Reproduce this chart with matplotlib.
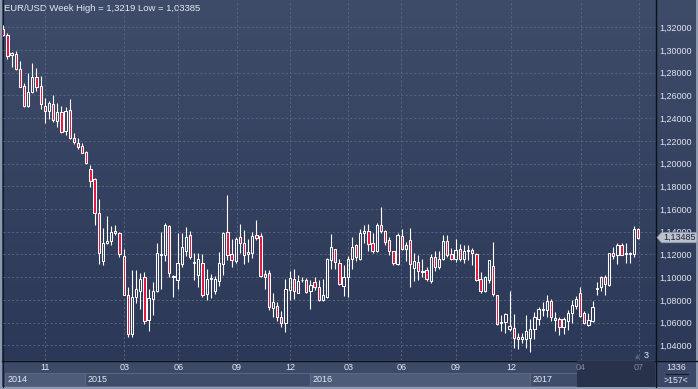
import numpy as np
import matplotlib.pyplot as plt
from matplotlib.colors import LinearSegmentedColormap
from matplotlib.patches import Rectangle, Polygon
from matplotlib.transforms import blended_transform_factory

plt.rcParams['font.family'] = ['Liberation Sans', 'DejaVu Sans']

# EUR/USD weekly candles (oldest first)
opens = [1.3185, 1.3132, 1.2956, 1.2962, 1.2830, 1.2683, 1.2507, 1.2630, 1.2760, 1.2683,
         1.2507, 1.2466, 1.2525, 1.2372, 1.2454, 1.2290, 1.2472, 1.2225, 1.2179, 1.2155,
         1.2102, 1.1950, 1.1867, 1.1568, 1.1145, 1.1303, 1.1316, 1.1404, 1.1391, 1.1186,
         1.0846, 1.0499, 1.0828, 1.0875, 1.1004, 1.0623, 1.0805, 1.0875, 1.1192, 1.1198,
         1.1450, 1.0999, 1.0975, 1.1116, 1.1233, 1.1369, 1.1122, 1.1022, 1.1122, 1.0852,
         1.0981, 1.0881, 1.0969, 1.1116, 1.1398, 1.1204, 1.1145, 1.1351, 1.1298, 1.1204,
         1.1215, 1.1369, 1.1362, 1.1028, 1.1034, 1.0728, 1.0746, 1.0652, 1.0599, 1.0887,
         1.0981, 1.0863, 1.0971, 1.0975, 1.0875, 1.0957, 1.0916, 1.0799, 1.0828, 1.1151,
         1.1245, 1.1122, 1.0922, 1.0999, 1.1163, 1.1280, 1.1163, 1.1391, 1.1409, 1.1298,
         1.1233, 1.1462, 1.1404, 1.1327, 1.1228, 1.1116, 1.1362, 1.1251, 1.1327, 1.1081,
         1.1133, 1.1048, 1.1063, 1.0969, 1.1175, 1.1092, 1.1163, 1.1316, 1.1204, 1.1163,
         1.1245, 1.1163, 1.1229, 1.1239, 1.1204, 1.0981, 1.0881, 1.0975, 1.1098, 1.0846,
         1.0594, 1.0605, 1.0541, 1.0552, 1.0458, 1.0458, 1.0458, 1.0464, 1.0541, 1.0629,
         1.0711, 1.0711, 1.0793, 1.0640, 1.0634, 1.0564, 1.0617, 1.0687, 1.0746, 1.0858,
         1.0682, 1.0581, 1.0617, 1.0894, 1.0911, 1.1004, 1.0928, 1.1215, 1.1198, 1.1286,
         1.1206, 1.1204, 1.1204, 1.1427]
highs = [1.3219, 1.3152, 1.2985, 1.2994, 1.2901, 1.2712, 1.2800, 1.2888, 1.2839, 1.2771,
         1.2575, 1.2554, 1.2601, 1.2531, 1.2507, 1.2501, 1.2566, 1.2272, 1.2225, 1.2184,
         1.2113, 1.1985, 1.1873, 1.1686, 1.1433, 1.1538, 1.1450, 1.1457, 1.1398, 1.1245,
         1.0911, 1.1063, 1.1063, 1.1039, 1.1045, 1.0898, 1.0957, 1.1303, 1.1398, 1.1479,
         1.1457, 1.1016, 1.1386, 1.1386, 1.1439, 1.1409, 1.1210, 1.1210, 1.1204, 1.1074,
         1.1028, 1.1010, 1.1221, 1.1398, 1.1726, 1.1333, 1.1351, 1.1468, 1.1415, 1.1333,
         1.1398, 1.1503, 1.1386, 1.1063, 1.1063, 1.0863, 1.0781, 1.0699, 1.0981, 1.1057,
         1.1069, 1.1016, 1.0999, 1.0993, 1.0975, 1.0999, 1.0975, 1.0981, 1.1169, 1.1380,
         1.1251, 1.1157, 1.1104, 1.1186, 1.1351, 1.1292, 1.1421, 1.1462, 1.1468, 1.1386,
         1.1474, 1.1620, 1.1415, 1.1351, 1.1233, 1.1386, 1.1421, 1.1310, 1.1433, 1.1210,
         1.1192, 1.1163, 1.1087, 1.1204, 1.1233, 1.1233, 1.1374, 1.1374, 1.1257, 1.1333,
         1.1292, 1.1280, 1.1280, 1.1257, 1.1215, 1.1045, 1.1010, 1.1151, 1.1310, 1.0846,
         1.0669, 1.0682, 1.0881, 1.0676, 1.0506, 1.0508, 1.0669, 1.0634, 1.0693, 1.0735,
         1.0781, 1.0846, 1.0810, 1.0693, 1.0647, 1.0647, 1.0711, 1.0799, 1.0834, 1.0911,
         1.0699, 1.0682, 1.0787, 1.0957, 1.1010, 1.1016, 1.1215, 1.1268, 1.1298, 1.1298,
         1.1298, 1.1222, 1.1450, 1.1433]
lows = [1.3123, 1.2918, 1.2853, 1.2824, 1.2672, 1.2501, 1.2501, 1.2624, 1.2642, 1.2478,
        1.2355, 1.2395, 1.2369, 1.2320, 1.2272, 1.2249, 1.2219, 1.2172, 1.2131, 1.2091,
        1.1996, 1.1797, 1.1462, 1.1116, 1.1104, 1.1292, 1.1280, 1.1369, 1.1180, 1.0840,
        1.0470, 1.0476, 1.0775, 1.0717, 1.0588, 1.0523, 1.0664, 1.0869, 1.0898, 1.1140,
        1.1004, 1.0823, 1.0893, 1.1087, 1.1186, 1.1163, 1.0975, 1.0916, 1.0828, 1.0799,
        1.0816, 1.0852, 1.0922, 1.1022, 1.1151, 1.1092, 1.1127, 1.1210, 1.1116, 1.1133,
        1.1169, 1.1327, 1.0999, 1.0898, 1.0711, 1.0647, 1.0617, 1.0564, 1.0517, 1.0799,
        1.0805, 1.0858, 1.0957, 1.0858, 1.0717, 1.0887, 1.0787, 1.0793, 1.0816, 1.1069,
        1.1069, 1.0928, 1.0834, 1.0828, 1.1069, 1.1145, 1.1151, 1.1298, 1.1233, 1.1210,
        1.1222, 1.1386, 1.1286, 1.1192, 1.1110, 1.1104, 1.1239, 1.1140, 1.0916, 1.0969,
        1.0975, 1.0999, 1.0964, 1.0951, 1.1052, 1.1074, 1.1151, 1.1175, 1.1151, 1.1133,
        1.1145, 1.1122, 1.1151, 1.1104, 1.0964, 1.0858, 1.0869, 1.0946, 1.0834, 1.0576,
        1.0523, 1.0511, 1.0529, 1.0376, 1.0365, 1.0420, 1.0376, 1.03385, 1.0458, 1.0576,
        1.0658, 1.0647, 1.0611, 1.0529, 1.0493, 1.0499, 1.0535, 1.0599, 1.0717, 1.0652,
        1.0588, 1.0570, 1.0605, 1.0840, 1.0881, 1.0846, 1.0922, 1.1163, 1.1116, 1.1192,
        1.1127, 1.1122, 1.1175, 1.1339]
closes = [1.3132, 1.2947, 1.2974, 1.2830, 1.2677, 1.2507, 1.2630, 1.2760, 1.2672, 1.2525,
          1.2460, 1.2531, 1.2384, 1.2454, 1.2278, 1.2460, 1.2225, 1.2190, 1.2149, 1.2096,
          1.2003, 1.1844, 1.1568, 1.1210, 1.1303, 1.1321, 1.1398, 1.1386, 1.1204, 1.0846,
          1.0499, 1.0828, 1.0893, 1.0981, 1.0611, 1.0816, 1.0875, 1.1210, 1.1204, 1.1457,
          1.1034, 1.1010, 1.1122, 1.1268, 1.1356, 1.1175, 1.1133, 1.1157, 1.0840, 1.0986,
          1.0993, 1.0986, 1.1127, 1.1391, 1.1192, 1.1151, 1.1339, 1.1303, 1.1198, 1.1222,
          1.1362, 1.1345, 1.1010, 1.1004, 1.0740, 1.0781, 1.0652, 1.0599, 1.0898, 1.0993,
          1.0881, 1.0969, 1.0979, 1.0869, 1.0928, 1.0916, 1.0799, 1.0840, 1.1163, 1.1263,
          1.1133, 1.0940, 1.1004, 1.1157, 1.1268, 1.1180, 1.1391, 1.1404, 1.1292, 1.1228,
          1.1462, 1.1404, 1.1310, 1.1228, 1.1122, 1.1374, 1.1251, 1.1286, 1.1116, 1.1145,
          1.1052, 1.1057, 1.0981, 1.1175, 1.1092, 1.1163, 1.1321, 1.1198, 1.1163, 1.1239,
          1.1157, 1.1228, 1.1237, 1.1210, 1.0975, 1.0881, 1.0999, 1.1151, 1.0852, 1.0588,
          1.0605, 1.0676, 1.0570, 1.0464, 1.0476, 1.0470, 1.0529, 1.0546, 1.0647, 1.0717,
          1.0720, 1.0793, 1.0652, 1.0623, 1.0564, 1.0634, 1.0687, 1.0752, 1.0805, 1.0658,
          1.0594, 1.0623, 1.0735, 1.0903, 1.1004, 1.0940, 1.1215, 1.1186, 1.1286, 1.1198,
          1.1214, 1.1215, 1.1427, 1.13485]

# time axis (positions in candle units, as they sit in the picture)
month_labels = ['11', '03', '06', '09', '12', '03', '06', '09', '12', '04', '07']
month_pos = [10, 29.2, 42.2, 56.2, 69.2, 83.1, 95.9, 109.1, 122.3, 139.2, 153.2]
year_labels = ['2014', '2015', '2016', '2017']
year_edges = [0.4, 19.7, 73.9, 126.9, 138.2]
price_ticks = np.arange(1.04, 1.3201, 0.02)

week_high = 1.3219
week_low = 1.03385
last_price = closes[-1]
bars_info = ['1336', '>157<']

def de(v, nd=None):
    s = f'{v:.{nd}f}' if nd else str(v)
    return s.replace('.', ',')

o = np.array(opens); h = np.array(highs); l = np.array(lows); c = np.array(closes)
x = np.arange(len(o))
up = c >= o
body_lo = np.minimum(o, c)
body_hi = np.maximum(o, c)

W, H = 698, 389
fig = plt.figure(figsize=(W / 100, H / 100), dpi=100)
fig.patch.set_facecolor('#3c4967')

# background layer in pixel space
bg = fig.add_axes([0, 0, 1, 1])
bg.set_zorder(0)
cmap = LinearSegmentedColormap.from_list('panel', ['#3e4b69', '#2c3857'])
bg.imshow(np.linspace(0, 1, 256).reshape(-1, 1), extent=(0, W, 360, 0),
          cmap=cmap, aspect='auto', interpolation='bilinear')
bg.add_patch(Rectangle((0, 360), W, 29, fc='#3c4967', ec='none'))
bg.add_patch(Rectangle((655, 361), 43, 28, fc='#3a4766', ec='none'))
bg.add_patch(Rectangle((0, 0), 2, H, fc='#8d99ae', ec='none'))
bg.add_patch(Rectangle((0, 387), W, 2, fc='#8d99ae', ec='none'))
bg.add_patch(Rectangle((696, 0), 2, H, fc='#8d99ae', ec='none'))
bg.plot([2.5, 2.5], [0, 387], color='#141a26', lw=0.8)
bg.plot([655.5, 655.5], [0, 387], color='#0c1018', lw=1.0)
bg.plot([2, 698], [360.5, 360.5], color='#0c1018', lw=1.0)
bg.set_xlim(0, W)
bg.set_ylim(H, 0)
bg.axis('off')

bg.text(4, 8, f'EUR/USD Week High = {de(week_high)} Low = {de(week_low)}',
        fontsize=6.8, color='#e4eaf3', va='center', ha='left')
bg.text(676, 367, bars_info[0], fontsize=6.3, color='#e4eaf3', ha='center', va='center')
bg.plot([666, 688], [374, 374], color='#141a26', lw=0.8)
bg.text(676, 380.5, bars_info[1], fontsize=6.3, color='#e4eaf3', ha='center', va='center')
bg.text(646.5, 355, '3', fontsize=6.5, color='#e4eaf3', ha='center', va='center')
bg.text(637, 356.5, '\u25b2', fontsize=4.5, color='#5c6782', ha='center', va='center',
        family='DejaVu Sans')

# main price axes
ax = fig.add_axes([3 / W, 1 - 360 / H, 652 / W, 360 / H])
ax.set_zorder(1)
ax.patch.set_alpha(0)
for sp in ax.spines.values():
    sp.set_visible(False)

ax.vlines(x, body_hi, h, color='white', lw=0.8, zorder=3)
ax.vlines(x, l, body_lo, color='white', lw=0.8, zorder=3)
faces = ['none' if u else '#e3163f' for u in up]
ax.bar(x, body_hi - body_lo, bottom=body_lo, width=0.55, color=faces,
       edgecolor='white', linewidth=0.75, zorder=4)

ax.set_xlim(-0.072, 157.04)
ax.set_ylim(1.02705, 1.34404)
ax.yaxis.tick_right()
ax.set_yticks(price_ticks)
ax.set_yticklabels([de(v, 5) for v in price_ticks])
ax.tick_params(axis='y', length=0, pad=3.2, labelsize=6.5, labelcolor='#dfe6f0')
ax.set_xticks(month_pos)
ax.tick_params(axis='x', length=0, labelbottom=False)
ax.grid(True, color='#56647f', lw=0.7, ls=(0, (2.2, 2.2)))
ax.set_axisbelow(True)

# last price tag on the scale
tr = blended_transform_factory(bg.transData, ax.transData)
dp = 0.0046
tag = Polygon([(657, last_price), (661.5, last_price + dp), (697, last_price + dp),
               (697, last_price - dp), (661.5, last_price - dp)], closed=True,
              transform=tr, fc='#bcc2cc', ec='#8a93a3', lw=0.5, clip_on=False, zorder=10)
ax.add_patch(tag)
ax.text(679.5, last_price, de(last_price, 5), transform=tr, fontsize=6.5,
        color='#1b2232', ha='center', va='center', zorder=11, clip_on=False)

# time strip
bx = fig.add_axes([3 / W, 2 / H, 652 / W, 26 / H])
bx.set_zorder(1)
bx.set_xlim(ax.get_xlim())
bx.set_ylim(0, 1)
bx.axis('off')
year_fill = ['#4e5c79', '#3f4d6b', '#4e5c79', '#3f4d6b']
for k, lab in enumerate(year_labels):
    x0, x1 = year_edges[k], year_edges[k + 1]
    bx.add_patch(Rectangle((x0, 0.02), x1 - x0, 0.5, fc=year_fill[k],
                           ec='#5f6d8a', lw=0.6))
    bx.text(x0 + 0.6, 0.27, lab, fontsize=6.5, color='#e4eaf3', ha='left', va='center')
bx.add_patch(Rectangle((year_edges[-1], 0), bx.get_xlim()[1] - year_edges[-1], 1,
                       fc='#28324b', ec='none', zorder=3))
for p, lab in zip(month_pos, month_labels):
    col = '#7e8aa3' if p > year_edges[-1] else '#e4eaf3'
    bx.text(p, 0.76, lab, fontsize=6.5, color=col, ha='center', va='center', zorder=4)

fig.savefig('out.png', dpi=100, facecolor=fig.get_facecolor())
